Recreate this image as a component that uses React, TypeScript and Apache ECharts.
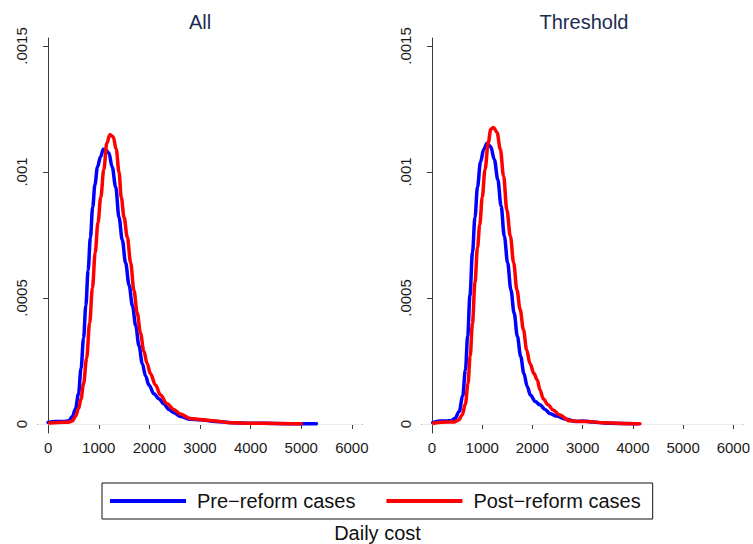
import { useEffect, useRef } from "react";
import * as echarts from "echarts";

// Axis ticks and gridlines
const xTicks = [0, 1000, 2000, 3000, 4000, 5000, 6000];
const yTicks = [0, 0.0005, 0.001, 0.0015];
const gridValues = [0, 0.0005, 0.001];

const panelTitles = ["All", "Threshold"];
const seriesNames = ["Pre\u2212reform cases", "Post\u2212reform cases"];
const xAxisTitle = "Daily cost";

// Kernel density estimates of daily cost: [cost, density]
const allPre: [number, number][] = [
  [0, 0.000006], [150, 0.00001], [300, 0.00001], [410, 0.000013], [480, 0.00003],
  [540, 0.00006], [600, 0.00012], [650, 0.00022], [700, 0.00034], [745, 0.00047],
  [790, 0.00061], [835, 0.00074], [880, 0.00086], [925, 0.00095], [975, 0.00102],
  [1035, 0.00106], [1090, 0.00109], [1135, 0.001088], [1200, 0.001075], [1265, 0.00102],
  [1335, 0.00094], [1400, 0.00082], [1465, 0.00073], [1530, 0.00064], [1600, 0.00055],
  [1665, 0.00047], [1730, 0.00039], [1795, 0.00031], [1860, 0.00024], [1925, 0.00019],
  [1990, 0.000155], [2090, 0.00012], [2190, 0.0001], [2285, 0.00008], [2385, 0.000058],
  [2480, 0.000046], [2610, 0.00003], [2810, 0.000019], [3000, 0.000017], [3300, 0.00001],
  [3650, 0.000005], [4000, 0.000003], [4500, 0.000002], [5000, 0.000001], [5300, 0.000001],
];

const allPost: [number, number][] = [
  [30, 0.000004], [200, 0.000006], [400, 0.000007], [480, 0.000012], [540, 0.00003],
  [600, 0.00006], [650, 0.0001], [700, 0.00016], [760, 0.00026], [820, 0.0004],
  [875, 0.00054], [930, 0.00068], [985, 0.0008], [1040, 0.0009], [1100, 0.00101],
  [1160, 0.001115], [1220, 0.001148], [1285, 0.00114], [1345, 0.00109], [1400, 0.001],
  [1445, 0.0009], [1500, 0.00082], [1565, 0.00074], [1630, 0.00064], [1695, 0.00053],
  [1760, 0.00044], [1825, 0.00036], [1890, 0.00029], [1955, 0.00024], [2020, 0.0002],
  [2120, 0.000155], [2220, 0.000115], [2350, 0.00008], [2480, 0.000058], [2610, 0.00004],
  [2810, 0.000022], [3000, 0.000018], [3300, 0.000012], [3600, 0.000005], [4000, 0.000003],
  [4500, 0.000002], [5000, 0.000001],
];

const thresholdPre: [number, number][] = [
  [15, 0.000005], [150, 0.000012], [300, 0.000012], [375, 0.000013], [460, 0.000023],
  [540, 0.00005], [610, 0.00011], [665, 0.000215], [710, 0.00035], [755, 0.00051],
  [805, 0.00068], [855, 0.00082], [905, 0.00094], [965, 0.00104], [1030, 0.00109],
  [1095, 0.001114], [1170, 0.0011], [1240, 0.00105], [1310, 0.00097], [1375, 0.000865],
  [1440, 0.000745], [1505, 0.00064], [1570, 0.000533], [1635, 0.00044], [1700, 0.000347],
  [1765, 0.000268], [1830, 0.0002], [1895, 0.000149], [1960, 0.000115], [2055, 0.000089],
  [2150, 0.000076], [2250, 0.000058], [2345, 0.000042], [2475, 0.000032], [2670, 0.000019],
  [2870, 0.00001], [3000, 0.000012], [3200, 0.000008], [3500, 0.000003], [4100, 0.000001],
];

const thresholdPost: [number, number][] = [
  [30, 0.000003], [200, 0.000007], [440, 0.000008], [530, 0.000016], [600, 0.000036],
  [665, 0.00008], [715, 0.00016], [760, 0.00027], [805, 0.0004], [855, 0.00056],
  [905, 0.0007], [950, 0.00079], [1000, 0.0009], [1055, 0.00101], [1120, 0.001117],
  [1170, 0.00117], [1226, 0.001177], [1294, 0.001157], [1360, 0.00109], [1425, 0.000984],
  [1490, 0.00085], [1560, 0.000745], [1625, 0.00064], [1690, 0.000533], [1755, 0.000454],
  [1820, 0.000374], [1885, 0.000294], [1950, 0.00024], [2030, 0.0002], [2095, 0.000175],
  [2150, 0.000135], [2215, 0.0001], [2310, 0.000076], [2410, 0.000056], [2540, 0.000036],
  [2740, 0.000013], [2935, 0.00001], [3100, 0.00001], [3400, 0.000005], [3800, 0.000002],
  [4140, 0.000001],
];

const panels = [
  { pre: allPre, post: allPost },
  { pre: thresholdPre, post: thresholdPost },
];

const FONT = "'Liberation Sans', Arial, Helvetica, sans-serif";
const PRE_COLOR = "#0000ff";
const POST_COLOR = "#ff0000";
const AXIS_COLOR = "#3a3a3a";
const GRID_COLOR = "#e6eef0";
const TITLE_COLOR = "#1c2c50";

const gridLefts = [38, 422];
const GRID_TOP = 38;
const GRID_W = 324;
const GRID_H = 395;

export default function App() {
  const ref = useRef<HTMLDivElement>(null);

  useEffect(() => {
    if (!ref.current) return;
    const chart = echarts.init(ref.current, undefined, { renderer: "svg" });

    const grids = gridLefts.map((left) => ({
      left,
      top: GRID_TOP,
      width: GRID_W,
      height: GRID_H,
      containLabel: false,
    }));

    const xAxes = gridLefts.map((_, i) => ({
      type: "value",
      gridIndex: i,
      min: -200,
      max: 6200,
      axisLine: { show: true, lineStyle: { color: AXIS_COLOR, width: 1 } },
      axisTick: {
        show: true,
        length: 5,
        customValues: xTicks,
        lineStyle: { color: AXIS_COLOR, width: 1 },
      },
      axisLabel: {
        customValues: xTicks,
        margin: 7,
        color: "#1a1a1a",
        fontSize: 15,
        fontFamily: FONT,
        formatter: (v: number) => String(v),
      },
      splitLine: { show: false },
    }));

    const yAxes = gridLefts.map((_, i) => ({
      type: "value",
      gridIndex: i,
      min: -0.0000357,
      max: 0.0015317,
      axisLine: { show: true, lineStyle: { color: AXIS_COLOR, width: 1 } },
      axisTick: {
        show: true,
        length: 5,
        customValues: yTicks,
        lineStyle: { color: AXIS_COLOR, width: 1 },
      },
      axisLabel: {
        customValues: yTicks,
        rotate: 90,
        margin: 9,
        color: "#1a1a1a",
        fontSize: 15,
        fontFamily: FONT,
        formatter: (v: number) => (v === 0 ? "0" : String(v).replace(/^0/, "")),
      },
      splitLine: { show: false },
    }));

    const series: any[] = [];
    panels.forEach((p, i) => {
      // light horizontal gridlines, drawn beneath the curves
      series.push({
        type: "line",
        xAxisIndex: i,
        yAxisIndex: i,
        data: [],
        silent: true,
        markLine: {
          silent: true,
          z: 1,
          symbol: "none",
          label: { show: false },
          lineStyle: { color: GRID_COLOR, width: 1, type: "solid" },
          data: gridValues.map((v) => ({ yAxis: v })),
        },
      });
      [
        { name: seriesNames[0], data: p.pre, color: PRE_COLOR },
        { name: seriesNames[1], data: p.post, color: POST_COLOR },
      ].forEach((s) => {
        series.push({
          type: "line",
          name: s.name,
          xAxisIndex: i,
          yAxisIndex: i,
          data: s.data,
          showSymbol: false,
          smooth: 0.35,
          smoothMonotone: "x",
          z: 3,
          itemStyle: { color: s.color },
          lineStyle: { color: s.color, width: 3.5, cap: "round", join: "round" },
        });
      });
    });

    const graphics: any[] = panelTitles.map((t, i) => ({
      type: "text",
      x: gridLefts[i] + GRID_W / 2,
      y: 22,
      style: {
        text: t,
        fill: TITLE_COLOR,
        font: `20px ${FONT}`,
        textAlign: "center",
        textVerticalAlign: "middle",
      },
    }));
    graphics.push({
      type: "text",
      x: 377.5,
      y: 533,
      style: {
        text: xAxisTitle,
        fill: "#111",
        font: `20px ${FONT}`,
        textAlign: "center",
        textVerticalAlign: "middle",
      },
    });

    chart.setOption({
      animation: false,
      backgroundColor: "#ffffff",
      grid: grids,
      xAxis: xAxes,
      yAxis: yAxes,
      legend: {
        data: seriesNames,
        left: 102,
        top: 483,
        orient: "horizontal",
        selectedMode: false,
        icon: "rect",
        itemWidth: 76,
        itemHeight: 4,
        itemGap: 31,
        padding: [7, 12, 7, 8],
        borderColor: "#111",
        borderWidth: 1,
        textStyle: {
          color: "#111",
          fontSize: 20,
          fontFamily: FONT,
          lineHeight: 22,
          padding: [0, 0, 0, 6],
        },
      },
      graphic: graphics,
      series,
    });

    return () => chart.dispose();
  }, []);

  return (
    <div
      ref={ref}
      style={{ position: "fixed", left: 0, top: 0, width: 753, height: 544, background: "#fff" }}
    />
  );
}
